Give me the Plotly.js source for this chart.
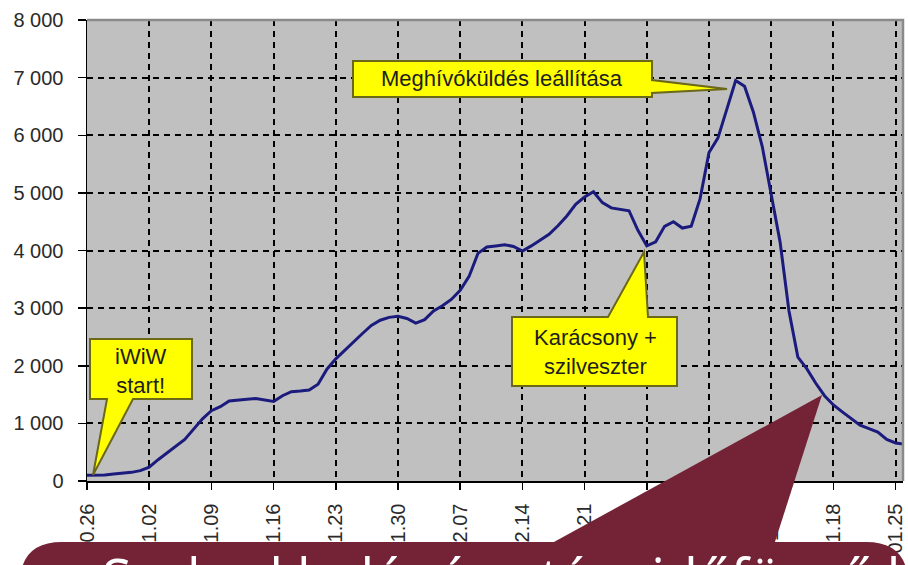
<!DOCTYPE html>
<html>
<head>
<meta charset="utf-8">
<script src="https://cdn.plot.ly/plotly-3.0.1.min.js"></script>
<style>html,body{margin:0;padding:0;background:#fff;}#chart{width:908px;height:565px;}</style>
</head>
<body>
<div id="chart"></div>
<script>
// ---- data ----
const startDate = '2006-10-26';
const dailyUsers = [
  100, 100, 105, 120, 135, 150, 180, 240, 370, 490,
  610, 720, 900, 1080, 1220, 1290, 1390, 1410, 1420, 1430,
  1400, 1380, 1480, 1550, 1560, 1580, 1680, 1940, 2120, 2270,
  2420, 2560, 2700, 2790, 2840, 2860, 2820, 2740, 2800, 2950,
  3040, 3150, 3310, 3550, 3950, 4060, 4080, 4100, 4070, 3990,
  4080, 4180, 4280, 4430, 4600, 4800, 4930, 5020, 4830, 4740,
  4720, 4690, 4350, 4080, 4150, 4420, 4500, 4390, 4420, 4900,
  5700, 5950, 6450, 6950, 6850, 6400, 5800, 4950, 4150, 2950,
  2150, 1950, 1700, 1480, 1320, 1200, 1090, 970, 910, 850,
  720, 660, 640
];
const tickDates = ['2006-10-26','2006-11-02','2006-11-09','2006-11-16','2006-11-23','2006-11-30',
  '2006-12-07','2006-12-14','2006-12-21','2006-12-28','2007-01-04','2007-01-11','2007-01-18','2007-01-25'];
const tickLabels = ['10.26','11.02','11.09','11.16','11.23','11.30','12.07','12.14','12.21','12.28',
  '01.04','01.11','01.18','01.25'];
const calloutTexts = ['iWiW<br>start!', 'Meghívóküldés leállítása', 'Karácsony +<br>szilveszter'];
const overlayText = 'Szabad belépés után: időfüggő lecsengés';

// dates for each daily value
const dates = dailyUsers.map((v, i) => {
  const [y, m, d] = startDate.split('-').map(Number);
  return new Date(Date.UTC(y, m - 1, d + i)).toISOString().slice(0, 10);
});

// ---- layout geometry ----
const L = 87, R = 5, T = 20, B = 84, WW = 908, HH = 565;
const PW = WW - L - R, PH = HH - T - B;
const px = x => (x - L) / PW;
const py = y => (HH - B - y) / PH;
function path(pts) {
  return pts.map((p, i) => (i ? 'L' : 'M') + ' ' + px(p[0]).toFixed(5) + ' ' + py(p[1]).toFixed(5)).join(' ') + ' Z';
}
const FONT = 'Arial, "Liberation Sans", sans-serif';
const calloutStyle = {type: 'path', xref: 'paper', yref: 'paper', fillcolor: '#ffff00',
  line: {color: '#6b6818', width: 2}, layer: 'above'};
const MAROON = '#742337';

const shapes = [
  // top/right plot border
  {type: 'path', xref: 'paper', yref: 'paper', path: 'M 0 1 L 1 1 L 1 0',
   line: {color: '#8a8a8a', width: 2.5}, layer: 'above'},
  // callouts
  Object.assign({}, calloutStyle, {path: path([[90,339],[192,339],[192,399],[133,399],[93,475],[107,399],[90,399]])}),
  Object.assign({}, calloutStyle, {path: path([[353,61],[652,61],[652,80],[727,89],[652,93],[652,97],[353,97]])}),
  Object.assign({}, calloutStyle, {path: path([[512,317],[608,317],[644,252],[648,317],[677,317],[677,386],[512,386]])}),
  // maroon overlay triangle
  {type: 'path', xref: 'paper', yref: 'paper', fillcolor: MAROON, line: {width: 0}, layer: 'above',
   path: path([[543,548],[822,395],[773,548]])},
  // maroon overlay rounded band
  {type: 'path', xref: 'paper', yref: 'paper', fillcolor: MAROON, line: {width: 0}, layer: 'above',
   path: 'M ' + px(20) + ' ' + py(620) + ' L ' + px(20) + ' ' + py(584) +
         ' Q ' + px(20) + ' ' + py(542) + ' ' + px(62) + ' ' + py(542) +
         ' L ' + px(866) + ' ' + py(542) +
         ' Q ' + px(908) + ' ' + py(542) + ' ' + px(908) + ' ' + py(584) +
         ' L ' + px(908) + ' ' + py(620) + ' Z'}
];

const annFont = {family: FONT, size: 22, color: '#1e1e1e'};
const annotations = [
  {xref: 'paper', yref: 'paper', x: px(141), y: py(371), text: calloutTexts[0], showarrow: false,
   font: annFont, xanchor: 'center', yanchor: 'middle', align: 'center'},
  {xref: 'paper', yref: 'paper', x: px(502), y: py(79), text: calloutTexts[1], showarrow: false,
   font: annFont, xanchor: 'center', yanchor: 'middle', align: 'center'},
  {xref: 'paper', yref: 'paper', x: px(595), y: py(352), text: calloutTexts[2], showarrow: false,
   font: annFont, xanchor: 'center', yanchor: 'middle', align: 'center'},
  {xref: 'paper', yref: 'paper', x: px(100), y: py(538), text: overlayText, showarrow: false,
   font: {family: '"Open Sans", sans-serif', size: 54, color: '#ffffff'}, xanchor: 'left', yanchor: 'top'}
];

const trace = {
  x: dates, y: dailyUsers, type: 'scatter', mode: 'lines',
  line: {color: '#1b1b7e', width: 3}, hoverinfo: 'skip'
};

const layout = {
  width: WW, height: HH,
  margin: {l: L, r: R, t: T, b: B, pad: 0},
  paper_bgcolor: '#ffffff', plot_bgcolor: '#c0c0c0',
  separators: ', ',
  showlegend: false,
  font: {family: FONT, size: 20, color: '#2a2a2a'},
  xaxis: {
    type: 'date', range: ['2006-10-26', '2007-01-25 20:00'],
    tickmode: 'array', tickvals: tickDates, ticktext: tickLabels, tickangle: -90,
    showline: true, linecolor: '#000', linewidth: 1.5,
    ticks: 'outside', ticklen: 7, tickcolor: '#000', tickwidth: 1.5, ticklabelstandoff: 6,
    showgrid: true, gridcolor: '#000', gridwidth: 2, griddash: '6px,5px',
    zeroline: false, tickfont: {family: FONT, size: 20, color: '#2a2a2a'}, fixedrange: true
  },
  yaxis: {
    range: [0, 8000], dtick: 1000, tick0: 0, tickformat: ',d',
    showline: true, linecolor: '#000', linewidth: 1.5,
    ticks: 'outside', ticklen: 8, tickcolor: '#000', tickwidth: 1.5, ticklabelstandoff: 10,
    showgrid: true, gridcolor: '#000', gridwidth: 2, griddash: '6px,5px',
    zeroline: false, tickfont: {family: FONT, size: 20, color: '#2a2a2a'}, fixedrange: true
  },
  shapes: shapes,
  annotations: annotations
};

Plotly.newPlot('chart', [trace], layout, {displayModeBar: false, staticPlot: true});
</script>
</body>
</html>
